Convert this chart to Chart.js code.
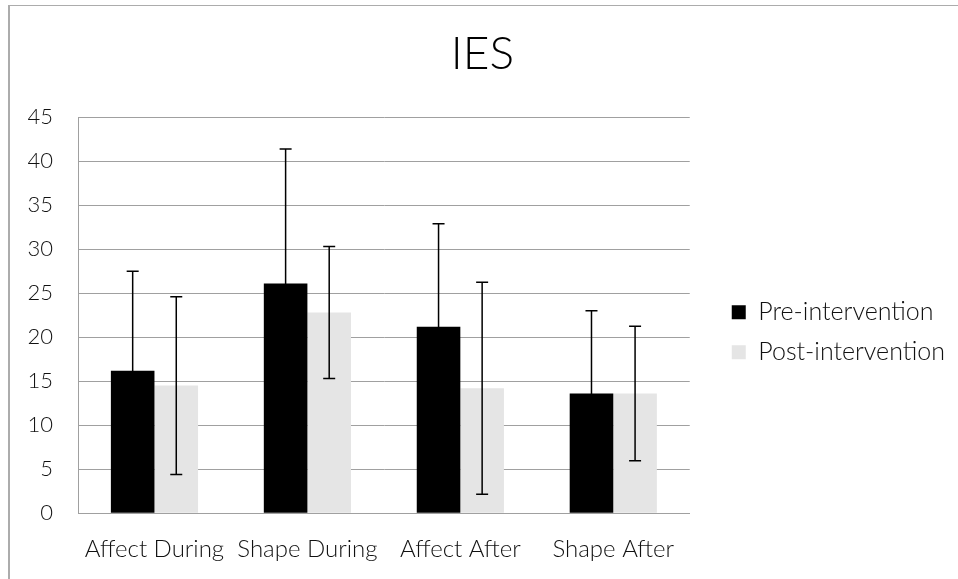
<!DOCTYPE html>
<html>
<head>
<meta charset="utf-8">
<script src="https://cdn.jsdelivr.net/npm/chart.js@4"></script>
<style>
  html, body { margin: 0; padding: 0; background: #fff; }
  #frame {
    position: absolute; left: 8px; top: 5px; width: 950px; height: 574px;
    border-left: 2px solid #acacac; border-top: 1px solid #acacac;
  }
  #wrap { position: absolute; left: 0; top: 0; width: 948px; height: 573px; }
</style>
</head>
<body>
<div id="frame"><div id="wrap"><canvas id="iesChart"></canvas></div></div>
<script>
// data
var categories = ["Affect During", "Shape During", "Affect After", "Shape After"];
var preValues = [16.2, 26.1, 21.2, 13.6];
var postValues = [14.5, 22.8, 14.2, 13.6];
var preErrors = [11.3, 15.3, 11.7, 9.4];
var postErrors = [10.1, 7.5, 12.05, 7.65];
var seriesNames = ["Pre-intervention", "Post-intervention"];

Chart.defaults.font.family = "Lato";
Chart.defaults.font.weight = "300";
Chart.defaults.color = "#111";

// error bars, drawn through the y scale
var errorBars = {
    id: 'errorBars',
    afterDatasetsDraw: function (chart) {
        var ctx = chart.ctx;
        var y = chart.scales.y;
        chart.data.datasets.forEach(function (ds, i) {
            var meta = chart.getDatasetMeta(i);
            meta.data.forEach(function (bar, j) {
                var v = ds.data[j], e = ds.errors[j];
                var top = y.getPixelForValue(v + e);
                var bot = y.getPixelForValue(Math.max(0, v - e));
                ctx.save();
                ctx.strokeStyle = '#000';
                ctx.lineWidth = 1.5;
                ctx.beginPath();
                ctx.moveTo(bar.x, top); ctx.lineTo(bar.x, bot);
                ctx.moveTo(bar.x - 6, top); ctx.lineTo(bar.x + 6, top);
                ctx.moveTo(bar.x - 6, bot); ctx.lineTo(bar.x + 6, bot);
                ctx.stroke();
                ctx.restore();
            });
        });
    }
};

var ctxB = document.getElementById("iesChart").getContext('2d');
var iesChart = new Chart(ctxB, {
    type: 'bar',
    data: {
        labels: categories,
        datasets: [{
            label: seriesNames[0],
            data: preValues,
            errors: preErrors,
            backgroundColor: "#000000"
        }, {
            label: seriesNames[1],
            data: postValues,
            errors: postErrors,
            backgroundColor: "#e5e5e5"
        }]
    },
    options: {
        responsive: true,
        maintainAspectRatio: false,
        animation: false,
        categoryPercentage: 0.57,
        barPercentage: 1.0,
        layout: { padding: { left: 0, right: 3, top: 20, bottom: 1 } },
        plugins: {
            title: {
                display: true,
                text: "IES",
                font: { size: 46, weight: '300' },
                color: '#000',
                padding: { top: 1, bottom: 35 }
            },
            legend: {
                position: 'right',
                maxWidth: 320,
                title: {
                    display: true,
                    text: ' ',
                    font: { size: 12 },
                    padding: { top: 23, bottom: 23 }
                },
                labels: {
                    boxWidth: 14,
                    boxHeight: 14,
                    padding: 15,
                    font: { size: 25 },
                    color: '#111'
                }
            },
            tooltip: { enabled: false }
        },
        scales: {
            x: {
                grid: { display: false },
                border: { color: '#a0a0a0', width: 1 },
                ticks: { font: { size: 24 }, maxRotation: 0, autoSkip: false, padding: 14, color: '#111' }
            },
            y: {
                min: 0,
                max: 45,
                ticks: { stepSize: 5, font: { size: 22 }, padding: 25, color: '#111' },
                grid: { color: '#a0a0a0', drawTicks: false },
                border: { color: '#a0a0a0' },
                afterFit: function (scale) { scale.width = 68; }
            },
            gap: {
                position: 'right',
                display: true,
                grid: { display: false },
                border: { display: false },
                ticks: { display: false },
                afterFit: function (scale) { scale.width = 27; }
            }
        }
    },
    plugins: [errorBars]
});
</script>
</body>
</html>
